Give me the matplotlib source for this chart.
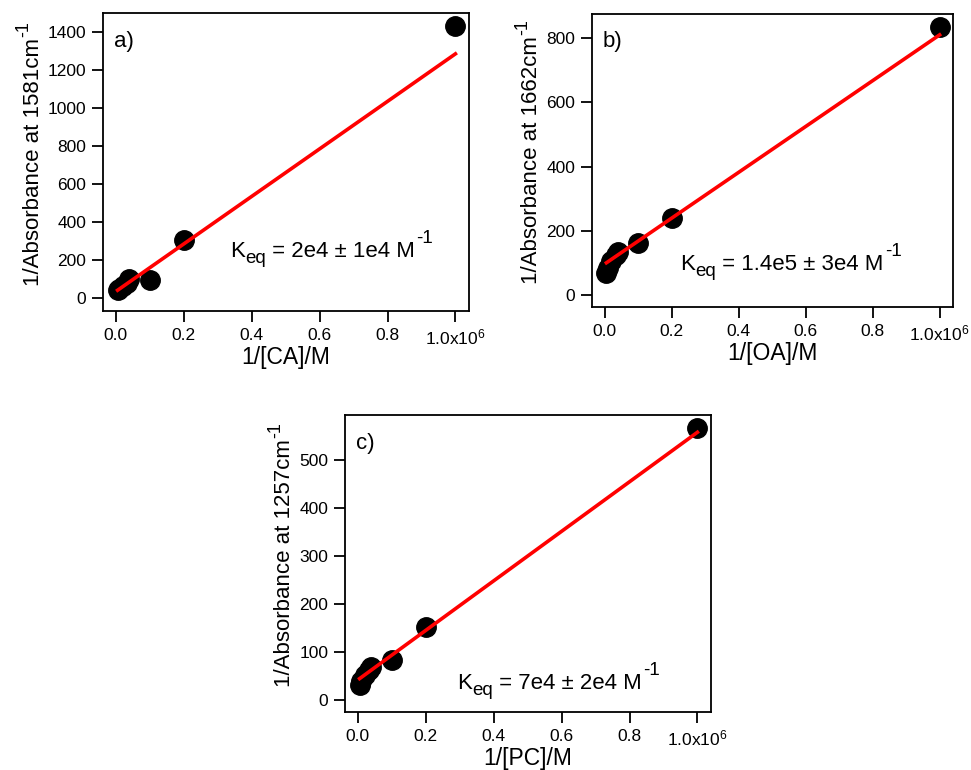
import matplotlib
matplotlib.use("Agg")
import matplotlib.pyplot as plt
import numpy as np

plt.rcParams['font.family'] = ['Liberation Sans', 'DejaVu Sans']
plt.rcParams['mathtext.default'] = 'regular'

# ---- data (inverse concentration, M^-1) ----
inv_conc = [5e3, 1e4, 2e4, 3.3e4, 4e4, 1e5, 2e5, 1e6]

ca_inv_abs = [45, 50, 62, 78, 100, 95, 305, 1430]
oa_inv_abs = [70, 85, 105, 125, 135, 162, 240, 834]
pc_inv_abs = [32, 40, 52, 62, 68, 83, 152, 567]

# fitted lines (slope, intercept)
ca_fit = (1.25e-3, 35)
oa_fit = (7.13e-4, 97)
pc_fit = (5.16e-4, 42)

xtick_vals = [0, 2e5, 4e5, 6e5, 8e5, 1e6]
xtick_labels = ['0.0', '0.2', '0.4', '0.6', '0.8', '1.0x10$^{6}$']

panels = [
    dict(rect=[103/971, 1-311/770, 366/971, 298/770], y=ca_inv_abs, fit=ca_fit,
         ylim=(-68, 1500), yticks=[0, 200, 400, 600, 800, 1000, 1200, 1400],
         ylabel='1/Absorbance at 1581cm', xlabel='1/[CA]/M', tag='a)',
         keq=' = 2e4 ± 1e4 M', keqpos=(0.347, 0.181)),
    dict(rect=[592/971, 1-307/770, 361/971, 293/770], y=oa_inv_abs, fit=oa_fit,
         ylim=(-37, 875), yticks=[0, 200, 400, 600, 800],
         ylabel='1/Absorbance at 1662cm', xlabel='1/[OA]/M', tag='b)',
         keq=' = 1.4e5 ± 3e4 M', keqpos=(0.244, 0.126)),
    dict(rect=[345/971, 1-712/770, 366/971, 297/770], y=pc_inv_abs, fit=pc_fit,
         ylim=(-25, 594), yticks=[0, 100, 200, 300, 400, 500],
         ylabel='1/Absorbance at 1257cm', xlabel='1/[PC]/M', tag='c)',
         keq=' = 7e4 ± 2e4 M', keqpos=(0.306, 0.076)),
]

fig = plt.figure(figsize=(9.71, 7.70), dpi=100)
for p in panels:
    ax = fig.add_axes(p['rect'])
    x = np.array(inv_conc)
    ax.plot(x, p['y'], 'o', color='black', ms=14, zorder=2)
    m, b = p['fit']
    xf = np.array([x.min(), x.max()])
    ax.plot(xf, m*xf + b, color='#ff0000', lw=2.6, zorder=3)
    ax.set_xlim(-0.038e6, 1.04e6)
    ax.set_ylim(*p['ylim'])
    ax.set_yticks(p['yticks'])
    ax.set_xticks(xtick_vals)
    ax.set_xticklabels(xtick_labels)
    ax.tick_params(direction='out', length=8, width=1.3, labelsize=12.5, pad=4)
    for s in ax.spines.values():
        s.set_linewidth(1.3)
    yl = ax.set_ylabel(p['ylabel'], fontsize=16, labelpad=3)
    ax.annotate('-1', xy=(1, 1), xycoords=yl, xytext=(-8, 1),
                textcoords='offset points', fontsize=13, rotation=90,
                ha='right', va='bottom')
    ax.set_xlabel(p['xlabel'], fontsize=16.5, labelpad=-1)
    ax.text(0.03, 0.905, p['tag'], transform=ax.transAxes, fontsize=16,
            ha='left', va='center')
    # K_eq annotation built from pieces (larger sub/superscripts)
    t1 = ax.text(p['keqpos'][0], p['keqpos'][1], 'K', transform=ax.transAxes,
                 fontsize=16, ha='left', va='baseline')
    t2 = ax.annotate('eq', xy=(1, 0), xycoords=t1, xytext=(0.3, -3.5),
                     textcoords='offset points', fontsize=13.5,
                     ha='left', va='bottom')
    t3 = ax.annotate(p['keq'], xy=(1, 0), xycoords=t2, xytext=(0, 3.5),
                     textcoords='offset points', fontsize=16,
                     ha='left', va='bottom')
    ax.annotate('-1', xy=(1, 1), xycoords=t3, xytext=(1, -4),
                textcoords='offset points', fontsize=13.5,
                ha='left', va='bottom')

fig.savefig('out.png', dpi=100)
